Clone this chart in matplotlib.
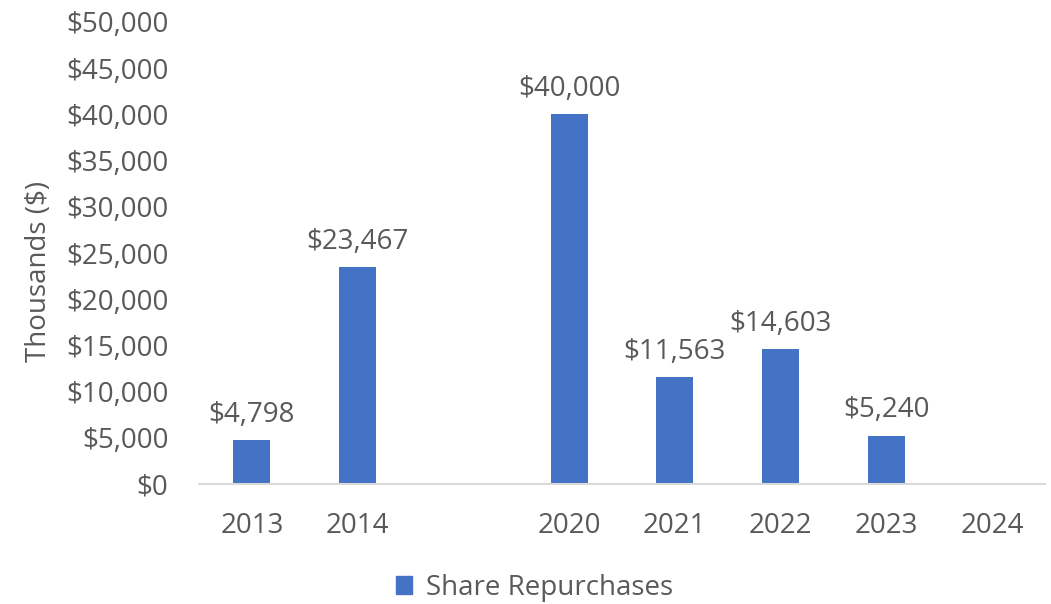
import matplotlib.pyplot as plt
from matplotlib.patches import Patch

years = ['2013', '2014', '', '2020', '2021', '2022', '2023', '2024']
repurchases = [4798, 23467, None, 40000, 11563, 14603, 5240, None]
y_ticks = list(range(0, 50001, 5000))

plt.rcParams['font.family'] = ['Open Sans', 'DejaVu Sans']
gray = '#595959'
blue = '#4472C4'
fs = 20

fig = plt.figure(figsize=(10.51, 6.04), dpi=100)
ax = fig.add_axes([199 / 1051, 1 - 484 / 604, 846 / 1051, 462 / 604])

pos = range(len(years))
xs = [i for i, v in zip(pos, repurchases) if v is not None]
vals = [v for v in repurchases if v is not None]
bars = ax.bar(xs, vals, width=0.35, color=blue)
for x, v in zip(xs, vals):
    ax.annotate(f'${v:,}', (x, v), xytext=(0, 8), textcoords='offset points',
                ha='center', va='bottom', fontsize=fs, color=gray)

ax.set_xlim(-0.5, len(years) - 0.5)
ax.set_ylim(0, 50000)
ax.set_xticks(list(pos))
ax.set_xticklabels(years)
ax.set_yticks(y_ticks)
ax.set_yticklabels([f'${t:,}' for t in y_ticks])
ax.tick_params(length=0, labelsize=fs, labelcolor=gray)
ax.tick_params(axis='x', pad=20)
ax.tick_params(axis='y', pad=22)
for s in ['top', 'right', 'left']:
    ax.spines[s].set_visible(False)
ax.spines['bottom'].set_color('#D9D9D9')
ax.spines['bottom'].set_linewidth(1.5)
ax.set_ylabel('Thousands ($)', fontsize=fs, color=gray)
ax.yaxis.set_label_coords(-0.172, 0.46)

fig.legend(handles=[Patch(color=blue, label='Share Repurchases')],
           loc='center', bbox_to_anchor=(0.5 + 9 / 1051, 1 - 588 / 604), frameon=False,
           fontsize=fs, labelcolor=gray, handlelength=0.6, handleheight=0.6,
           handletextpad=0.5)

fig.savefig('out.png', dpi=100)
